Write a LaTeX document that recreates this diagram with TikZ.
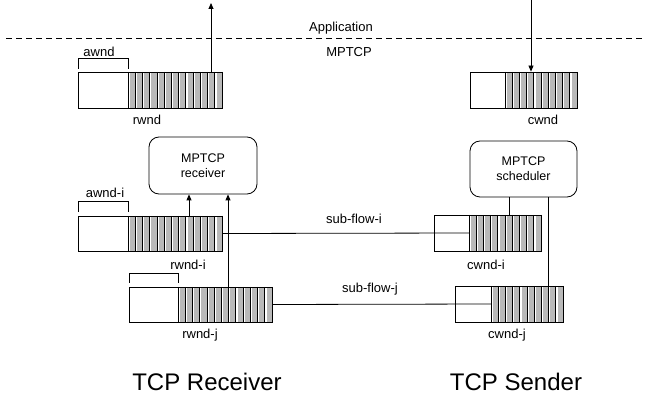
\documentclass[tikz,border=0pt]{standalone}
\usepackage{fontspec}
\setmainfont{Liberation Sans}
\usetikzlibrary{arrows.meta,fit}
\tikzset{
  lbl/.style={font=\fontsize{13}{15}\selectfont, inner sep=0pt, anchor=base},
  big/.style={font=\fontsize{24}{28}\selectfont, inner sep=0pt, anchor=base},
  buf/.style={draw, inner sep=0pt, line width=0.8pt},
  conn/.style={line width=0.8pt},
  arr/.style={conn, -{Triangle[length=6pt,width=5pt]}},
  proc/.style={draw, rounded corners=10pt, line width=0.8pt, inner sep=0pt, align=center,
    font=\fontsize{12.5}{15}\selectfont},
  layer/.style={line width=0.8pt, dash pattern=on 6pt off 4pt},
}
% name, x-left, x-split, x-right, y-top, y-bottom, cells
\newcommand{\bufbox}[7]{%
  \pgfmathsetmacro{\bufstep}{(#4-#3)/#7}
  \foreach \k in {1,...,#7}{
    \fill[gray!55] ({#3+(\k-1)*\bufstep+1.8},-#5) rectangle ({#3+\k*\bufstep},-#6);
    \draw[line width=0.7pt] ({#3+\k*\bufstep},-#5) -- ({#3+\k*\bufstep},-#6);
  }
  \coordinate (#1-nw) at (#2,-#5);
  \coordinate (#1-se) at (#4,-#6);
  \coordinate (#1-s) at ({#3},{-(#5+#6)/2});
  \node[buf, fit=(#1-nw)(#1-se)] (#1) {};
  \draw[line width=0.8pt] (#3,-#5) -- (#3,-#6);
}
\begin{document}
\begin{tikzpicture}[x=1pt,y=1pt]
\useasboundingbox (0,0) rectangle (645,-395);

% layer line
\coordinate (ll) at (6,-38);
\coordinate (lr) at (645,-38);
\draw[layer] (ll) -- (lr);
\node[lbl] (app) at (341,-32) {Application};
\node[lbl] (mptcp) at (349,-57) {MPTCP};

% buffers
\bufbox{rwnd}{78}{128}{222}{72}{108}{13}
\bufbox{cwnd}{470}{505}{577}{72}{108}{10}
\bufbox{rwndi}{78}{128}{222}{216}{251}{13}
\bufbox{rwndj}{129}{178}{272}{287}{322}{13}
\bufbox{cwndi}{434}{469}{541}{215}{251}{10}
\bufbox{cwndj}{455}{491}{563}{286}{322}{10}

% brackets
\draw[conn] (78,-69) -- (78,-58) -- (128,-58) -- (128,-69);
\draw[conn] (78,-212) -- (78,-201) -- (128,-201) -- (128,-212);
\draw[conn] (129,-283) -- (129,-273) -- (178,-273) -- (178,-283);

% labels
\node[lbl] (awnd) at (99,-57) {awnd};
\node[lbl] (rwndl) at (147,-125) {rwnd};
\node[lbl] (cwndl) at (543,-125) {cwnd};
\node[lbl] (awndi) at (105,-198) {awnd-i};
\node[lbl] (rwndil) at (188,-270) {rwnd-i};
\node[lbl] (rwndjl) at (200,-338) {rwnd-j};
\node[lbl] (cwndil) at (486,-270) {cwnd-i};
\node[lbl] (cwndjl) at (507,-338) {cwnd-j};
\node[lbl] (sfi) at (354,-224) {sub-flow-i};
\node[lbl] (sfj) at (370,-292) {sub-flow-j};

% processes
\node[proc, minimum width=108pt, minimum height=57pt] (recv) at (203,-165.5) {MPTCP\\receiver};
\node[proc, minimum width=107pt, minimum height=56pt] (sched) at (523.5,-169) {MPTCP\\scheduler};

% arrows to/from application
\coordinate (appout) at (211,-3);
\draw[arr] (rwnd.north -| appout) -- (appout);
\coordinate (appin) at (531,0);
\draw[arr] (appin) -- (appin |- cwnd.north);

% receiver arrows
\draw[arr] ([xshift=-14pt]recv.south |- rwndi.north) -- ([xshift=-14pt]recv.south);
\draw[arr] ([xshift=25pt]recv.south |- rwndj.north) -- ([xshift=25pt]recv.south);

% scheduler lines
\draw[conn] ([xshift=-14.5pt]sched.south) -- ([xshift=-14.5pt]sched.south |- cwndi.north);
\draw[conn] ([xshift=24.5pt]sched.south) -- ([xshift=24.5pt]sched.south |- cwndj.north);

% sub-flows
\draw[conn] (rwndi.east) -- (cwndi-s);
\draw[conn] (rwndj.east) -- (cwndj-s);

% bottom titles
\node[big] (tcpr) at (207,-390) {TCP Receiver};
\node[big] (tcps) at (516,-390) {TCP Sender};
\end{tikzpicture}
\end{document}
